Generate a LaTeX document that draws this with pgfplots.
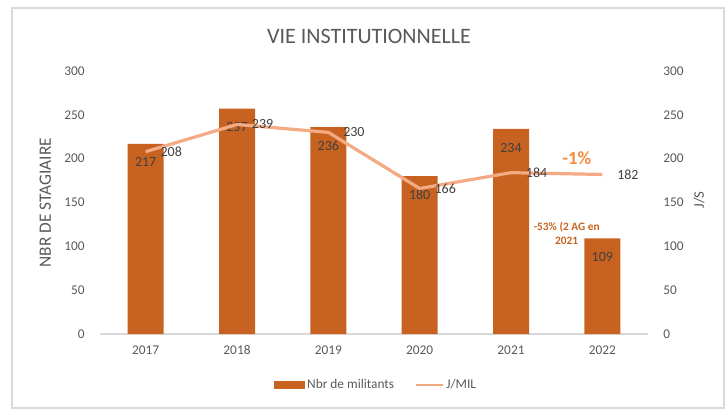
\documentclass[border=0pt]{standalone}
\usepackage{pgfplots}
\pgfplotsset{compat=1.18}
\usepackage{fontspec}
\setmainfont{Carlito}

\definecolor{barorange}{RGB}{200,98,32}
\definecolor{lineorange}{RGB}{244,170,130}
\definecolor{pctorange}{RGB}{245,140,60}
\definecolor{txtgray}{RGB}{89,89,89}
\definecolor{lblgray}{RGB}{64,64,64}
\definecolor{gridgray}{RGB}{217,217,217}

\pgfplotsset{
  base/.style={
    at={(75pt,57.75pt)}, anchor=south west,
    scale only axis, width=411pt, height=197.25pt,
    xmin=-0.5, xmax=5.5, ymin=0, ymax=300,
    ytick={0,50,...,300},
    major tick length=0pt,
    tick label style={font=\fontsize{10}{12}\selectfont, text=txtgray},
    /pgf/number format/assume math mode=true,
  },
}

\begin{document}
\begin{tikzpicture}
% outer frame
\draw[gridgray, line width=1.2pt] (9pt,2.25pt) rectangle (543pt,302.25pt);
\path[use as bounding box] (0,0) rectangle (543.75pt,308.25pt);

\begin{axis}[base,
    axis x line*=bottom, axis y line=none,
    x axis line style={gridgray, line width=0.8pt},
    xtick=data, xticklabels={2017,2018,2019,2020,2021,2022},
    xticklabel style={yshift=-5pt},
    ymajorgrids, grid style={gridgray, line width=0.8pt},
    ybar, bar width=27pt,
    nodes near coords,
    every node near coord/.append style={font=\fontsize{10.5}{12}\selectfont, text=lblgray, anchor=center, yshift=-14pt},
]
\addplot[fill=barorange, draw=none] coordinates {(0,217) (1,257) (2,236) (3,180) (4,234) (5,109)};
\end{axis}

\begin{axis}[base,
    axis y line*=left, axis x line=none,
    y axis line style={draw=none},
    yticklabel style={xshift=-8pt},
    ylabel={NBR DE STAGIAIRE},
    ylabel style={at={(axis description cs:-0.1,0.5)}, anchor=center, font=\fontsize{13}{15}\selectfont, text=txtgray},
]
\addplot[draw=none] coordinates {(0,0)};
\end{axis}

\begin{axis}[base,
    axis y line*=right, axis x line=none,
    y axis line style={draw=none},
    yticklabel style={xshift=8pt},
    ylabel={J/S},
    ylabel style={at={(axis description cs:1.093,0.51)}, anchor=center, font=\fontsize{11}{13}\selectfont, text=txtgray},
    legend style={at={(axis description cs:0.504,-0.194)}, anchor=center, draw=none, fill=none,
      legend columns=2, font=\fontsize{10}{12}\selectfont, text=txtgray,
      /tikz/every even column/.append style={column sep=14pt}},
    nodes near coords,
    every node near coord/.append style={font=\fontsize{10.5}{12}\selectfont, text=lblgray, anchor=west, inner sep=0pt, xshift=10pt},
]
\addlegendimage{legend image code/.code={\fill[barorange] (0cm,-0.09cm) rectangle (0.8cm,0.09cm);}}
\addlegendentry{Nbr de militants}
\addplot[lineorange, line width=2.4pt, mark=none,
  legend image code/.code={\draw[lineorange, line width=1.2pt] (0cm,0cm) -- (0.7cm,0cm);}]
  coordinates {(0,208) (1,239) (2,230) (3,166) (4,184) (5,182)};
\addlegendentry{J/MIL}
\node[font=\fontsize{14}{16}\selectfont\bfseries, text=pctorange] at (axis cs:4.72,200.8) {-1\%};
\node[font=\fontsize{8.5}{10}\selectfont\bfseries, text=barorange, align=center] at (axis cs:4.61,115)
  {-53\% (2 AG en\\2021};
\end{axis}

\node[font=\fontsize{16.5}{18}\selectfont, text=txtgray] at (276.75pt,281.25pt) {VIE INSTITUTIONNELLE};
\end{tikzpicture}
\end{document}
